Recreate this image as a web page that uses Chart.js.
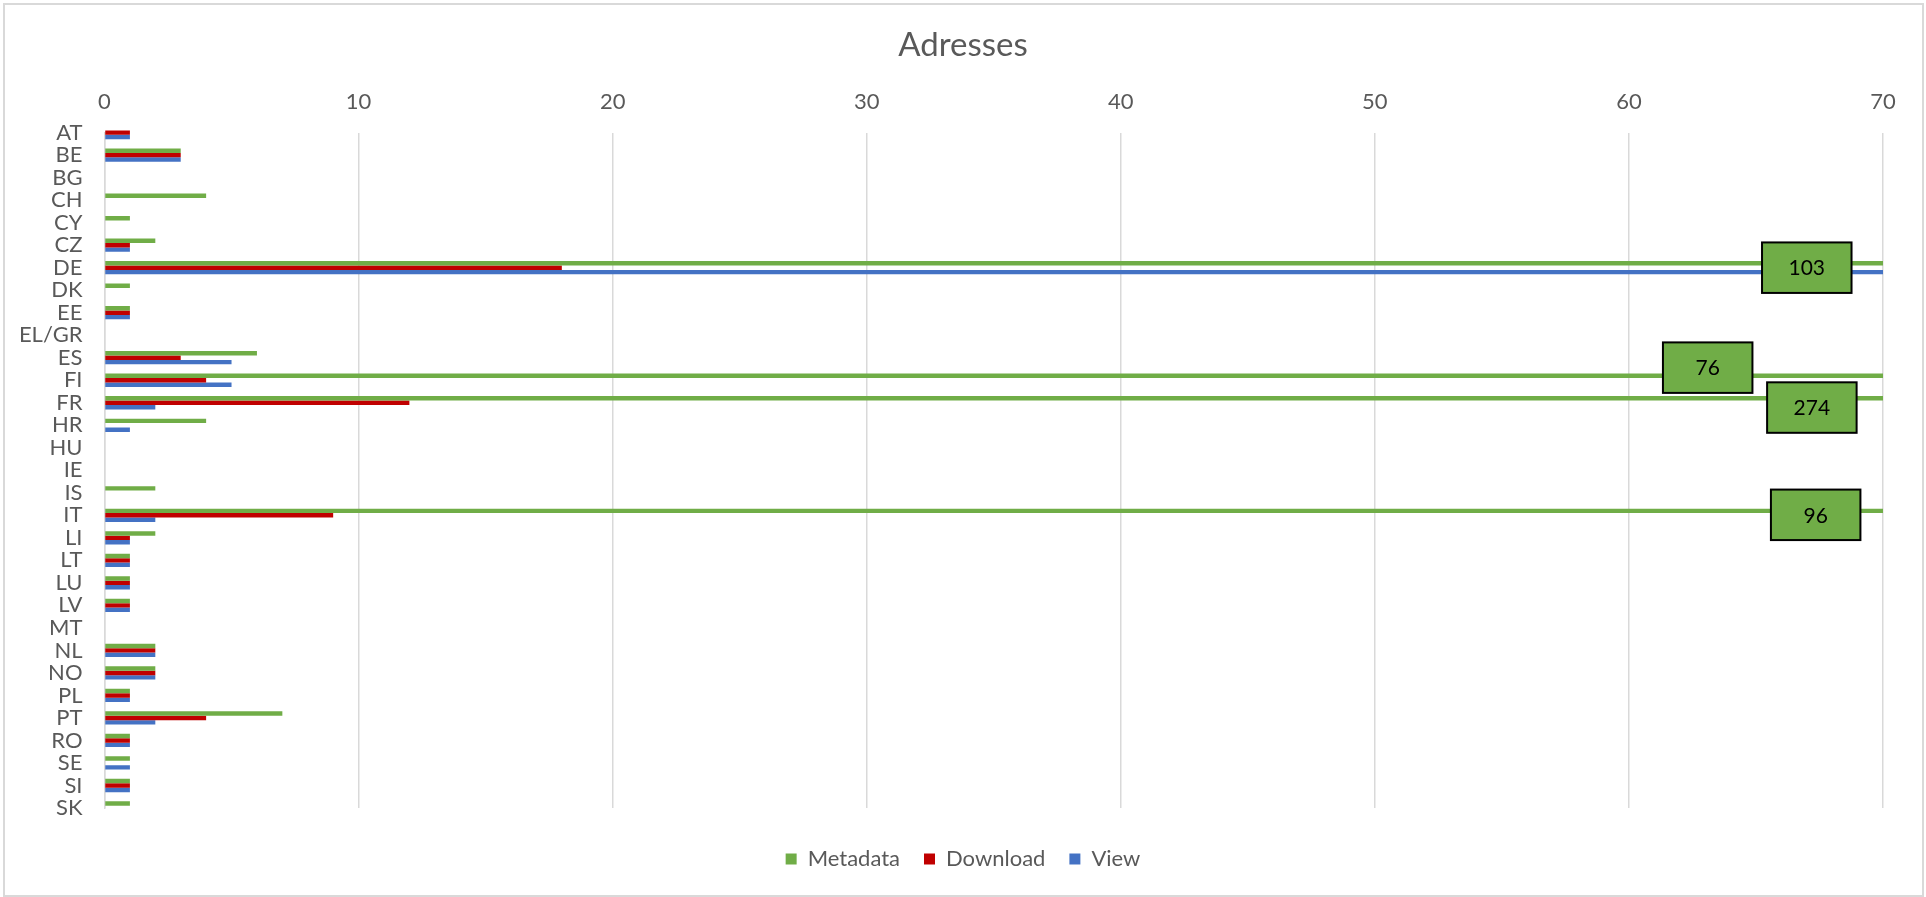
<!DOCTYPE html>
<html>
<head>
<meta charset="utf-8">
<script src="https://cdn.jsdelivr.net/npm/chart.js@4.4.1/dist/chart.umd.min.js"></script>
<style>
  html, body { margin: 0; padding: 0; background: #ffffff; }
  #wrap { position: relative; width: 1926px; height: 897px; }
  #frame { position: absolute; left: 3px; top: 3px; width: 1921px; height: 894px; box-sizing: border-box; border: 2px solid #d9d9d9; pointer-events: none; }
  canvas { display: block; }
</style>
</head>
<body>
<div id="wrap">
  <canvas id="c" width="1926" height="897"></canvas>
  <div id="frame"></div>
</div>
<script>
const categories = ['AT','BE','BG','CH','CY','CZ','DE','DK','EE','EL/GR','ES','FI','FR','HR','HU','IE','IS','IT','LI','LT','LU','LV','MT','NL','NO','PL','PT','RO','SE','SI','SK'];
const metadata = [0,3,0,4,1,2,103,1,1,0,6,76,274,4,0,0,2,96,2,1,1,1,0,2,2,1,7,1,1,1,1];
const download = [1,3,0,0,0,1,18,0,1,0,3,4,12,0,0,0,0,9,1,1,1,1,0,2,2,1,4,1,0,1,0];
const view     = [1,3,0,0,0,1,80,0,1,0,5,5,2,1,0,0,0,2,1,1,1,1,0,2,2,1,2,1,1,1,0];
const seriesNames = ['Metadata','Download','View'];
const xTicks = [0,10,20,30,40,50,60,70];

const FONT = 'Lato, "Open Sans", sans-serif';
const GRAY = '#595959';

// Boxed labels for bars that run past the axis end (Excel-style moved labels)
const overflowLabels = {
  id: 'overflowLabels',
  afterDatasetsDraw(chart, args, opts) {
    const xs = chart.scales.x, ys = chart.scales.y;
    const ctx = chart.ctx;
    const ds = chart.data.datasets[0];
    ctx.save();
    ds.data.forEach((v, i) => {
      if (v <= xs.max) return;
      const place = opts.place[categories[i]] || {at: xs.max - 3, dy: 0};
      const cx = xs.getPixelForValue(place.at);
      const cy = ys.getPixelForValue(i) + place.dy;
      const w = opts.width, h = opts.height;
      ctx.fillStyle = ds.backgroundColor;
      ctx.fillRect(cx - w / 2, cy - h / 2, w, h);
      ctx.lineWidth = 2;
      ctx.strokeStyle = '#000000';
      ctx.strokeRect(cx - w / 2, cy - h / 2, w, h);
      ctx.fillStyle = '#000000';
      ctx.font = '21px ' + FONT;
      ctx.textAlign = 'center';
      ctx.textBaseline = 'middle';
      ctx.fillText(String(v), cx, cy + 1);
    });
    ctx.restore();
  }
};

const barClip = {left: 0, right: 0, top: 20, bottom: 20};

new Chart(document.getElementById('c'), {
  type: 'bar',
  data: {
    labels: categories,
    datasets: [
      {label: seriesNames[0], data: metadata, backgroundColor: '#70AD47', clip: barClip},
      {label: seriesNames[1], data: download, backgroundColor: '#C00000', clip: barClip},
      {label: seriesNames[2], data: view, backgroundColor: '#4472C4', clip: barClip}
    ]
  },
  options: {
    indexAxis: 'y',
    responsive: false,
    animation: false,
    devicePixelRatio: 1,
    layout: {padding: {left: 43, right: 43, top: 0, bottom: 17}},
    datasets: {bar: {categoryPercentage: 0.59, barPercentage: 1.0, borderWidth: 0}},
    scales: {
      x: {
        position: 'top',
        min: 0, max: 70,
        afterBuildTicks(scale) { scale.ticks = xTicks.map(v => ({value: v})); },
        afterFit(scale) { scale.height = 67; },
        grid: {color: '#d9d9d9', lineWidth: 1.5, drawTicks: false},
        border: {display: false},
        ticks: {color: GRAY, font: {family: FONT, size: 22}, padding: 17}
      },
      y: {
        offset: false,
        afterFit(scale) {
          scale.width = 61.5;
          // let category labels extend into the left padding instead of being clipped
          scale._computeLabelArea = () => undefined;
        },
        grid: {display: false, drawTicks: false},
        border: {display: true, color: '#d9d9d9', width: 1.5},
        ticks: {color: GRAY, font: {family: FONT, size: 22}, padding: 22, autoSkip: false}
      }
    },
    plugins: {
      title: {display: true, text: 'Adresses', color: GRAY, font: {family: FONT, size: 33, weight: 'normal'}, padding: {top: 26, bottom: 0}},
      legend: {
        position: 'bottom',
        title: {display: true, text: '', font: {size: 1}, padding: 7.4},
        labels: {color: GRAY, font: {family: FONT, size: 22}, boxWidth: 11, boxHeight: 11, padding: 24}
      },
      tooltip: {enabled: false},
      overflowLabels: {
        width: 89.5, height: 50.5,
        place: {
          'DE': {at: 67.0, dy: 0},
          'FI': {at: 63.1, dy: -12.6},
          'FR': {at: 67.2, dy: 4.8},
          'IT': {at: 67.35, dy: -0.5}
        }
      }
    }
  },
  plugins: [overflowLabels]
});
</script>
</body>
</html>
